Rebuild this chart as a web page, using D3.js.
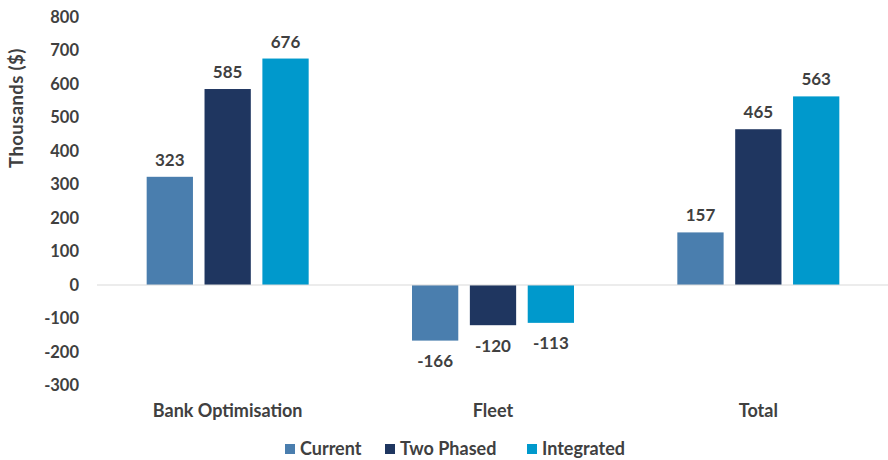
<!DOCTYPE html>
<html>
<head>
<meta charset="utf-8">
<script src="https://cdn.jsdelivr.net/npm/d3@7"></script>
<style>
  html, body { margin: 0; padding: 0; background: #fff; }
  svg { display: block; }
  text { font-family: Lato, "Open Sans", sans-serif; font-weight: 700; fill: #404040; }
</style>
</head>
<body>
<svg id="chart" width="888" height="460"></svg>
<script>
const categories = ["Bank Optimisation", "Fleet", "Total"];
const seriesNames = ["Current", "Two Phased", "Integrated"];
const current = [323, -166, 157];
const twoPhased = [585, -120, 465];
const integrated = [676, -113, 563];
const yTicks = [800, 700, 600, 500, 400, 300, 200, 100, 0, -100, -200, -300];
const colors = ["#4a7eae", "#1f3660", "#0099cc"];

const seriesValues = [current, twoPhased, integrated];

const svg = d3.select("#chart");
const W = 888, H = 460;
const plot = { left: 95, right: 891, top: 17, bottom: 385.5 };

const x0 = d3.scaleBand().domain(categories).range([plot.left, plot.right]).paddingInner(0).paddingOuter(0);
const x1 = d3.scaleBand().domain(seriesNames).range([0, 162]).paddingInner(0.2).paddingOuter(0);
const y = d3.scaleLinear().domain([-300, 800]).range([plot.bottom, plot.top]);

// Y axis labels (no axis line)
svg.append("g").selectAll("text").data(yTicks).join("text")
  .attr("x", 79).attr("y", d => y(d)).attr("dy", "0.35em")
  .attr("text-anchor", "end").style("font-size", "16.5px").text(d => d);

// Axis title
svg.append("text")
  .attr("transform", `translate(23,${y(528)}) rotate(-90)`)
  .attr("text-anchor", "middle").style("font-size", "18.5px")
  .style("letter-spacing", "0.4px").text("Thousands ($)");

// Bars with value labels
const groups = svg.append("g").selectAll("g").data(categories).join("g")
  .attr("transform", c => `translate(${x0(c) + x0.bandwidth() / 2 - 81},0)`);

groups.each(function (c, ci) {
  const g = d3.select(this);
  seriesNames.forEach((s, si) => {
    const v = seriesValues[si][ci];
    g.append("rect")
      .attr("x", x1(s)).attr("width", x1.bandwidth())
      .attr("y", y(Math.max(0, v))).attr("height", Math.abs(y(v) - y(0)))
      .attr("fill", colors[si]);
    g.append("text")
      .attr("x", x1(s) + x1.bandwidth() / 2)
      .attr("y", v >= 0 ? y(v) - 11 : y(v) + 13)
      .attr("dy", v >= 0 ? "0" : "0.8em")
      .attr("text-anchor", "middle").style("font-size", "17px").text(v);
  });
});

// Zero baseline
svg.append("line")
  .attr("x1", plot.left + 2).attr("x2", W).attr("y1", y(0)).attr("y2", y(0))
  .attr("stroke", "#d9d9d9").attr("stroke-width", 1.2);

// Category labels
svg.append("g").selectAll("text").data(categories).join("text")
  .attr("x", c => x0(c) + x0.bandwidth() / 2).attr("y", 417)
  .attr("text-anchor", "middle").style("font-size", "18px").text(c => c);

// Legend
const legendX = [285, 385, 527];
const legend = svg.append("g").selectAll("g").data(seriesNames).join("g")
  .attr("transform", (d, i) => `translate(${legendX[i]},449)`);
legend.append("rect").attr("x", 0).attr("y", -5).attr("width", 10).attr("height", 10)
  .attr("fill", (d, i) => colors[i]);
legend.append("text").attr("x", 15).attr("dy", "0.35em")
  .style("font-size", "18px").text(d => d);
</script>
</body>
</html>
